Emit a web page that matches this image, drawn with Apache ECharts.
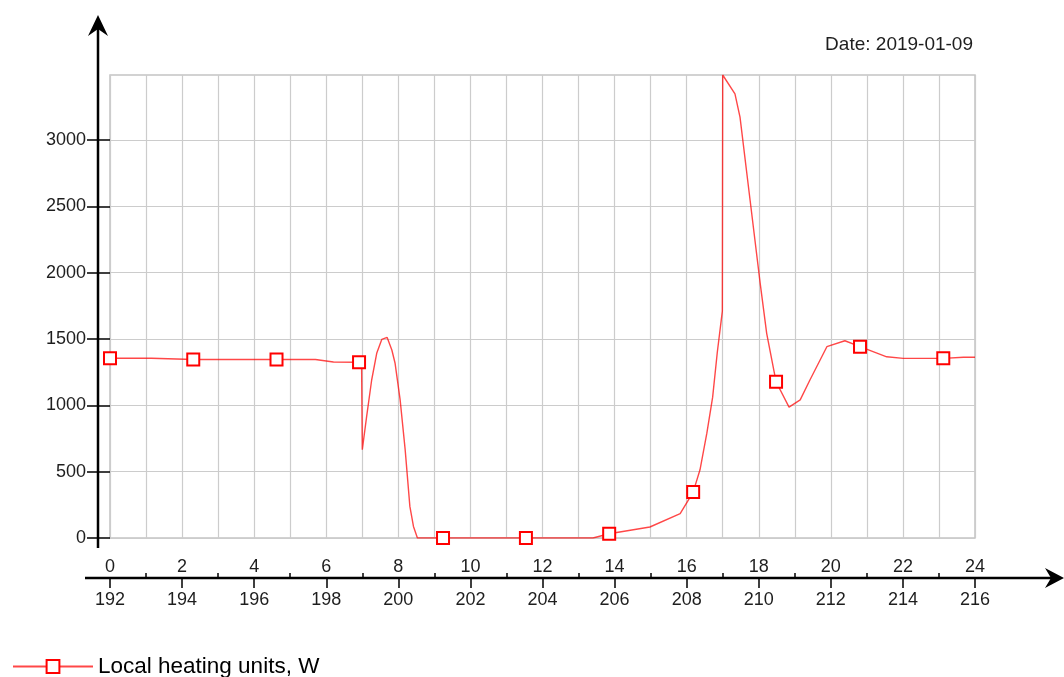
<!DOCTYPE html>
<html>
<head>
<meta charset="utf-8">
<title>Local heating units</title>
<script src="https://cdn.jsdelivr.net/npm/echarts@6/dist/echarts.min.js"></script>
<style>
  html, body { margin: 0; padding: 0; background: #ffffff; }
  #chart { width: 1064px; height: 677px; }
</style>
</head>
<body>
<div id="chart"></div>
<script>
// Hour of day and heating power (W) for 2019-01-09
const hours = [0, 1.15, 1.2, 2.31, 4.62, 5.7, 5.75, 6.2, 6.91, 6.98, 7.0, 7.12, 7.26, 7.40, 7.54, 7.69,
  7.82, 7.91, 8.05, 8.19, 8.32, 8.42, 8.53, 9.24, 11.54, 13.4, 13.85, 14.98, 15.82, 16.18, 16.37,
  16.56, 16.72, 16.85, 16.99, 17.0, 17.34, 17.48, 17.76, 18.04, 18.22, 18.48, 18.84, 19.15, 19.42,
  19.89, 20.39, 20.81, 21.55, 22.01, 23.12, 23.68, 24];
const watts = [1355, 1355, 1345, 1345, 1345, 1345, 1336, 1327, 1325, 1325, 665, 915, 1191, 1392, 1497, 1512,
  1417, 1317, 1041, 664, 238, 87, 0, 0, 0, 0, 32, 83, 183, 346, 514,
  790, 1060, 1400, 1710, 3490, 3348, 3172, 2546, 1919, 1543, 1178, 986, 1041, 1191,
  1442, 1487, 1442, 1366, 1354, 1354, 1362, 1362];
// Hours at which the series carries a square marker
const markerHours = [0, 2.31, 4.62, 6.91, 9.24, 11.54, 13.85, 16.18, 18.48, 20.81, 23.12];

// Tick values
const hourLabels = [0, 2, 4, 6, 8, 10, 12, 14, 16, 18, 20, 22, 24];
const oddHours = [1, 3, 5, 7, 9, 11, 13, 15, 17, 19, 21, 23];
const hourOffset = 192;
const powerTicks = [0, 500, 1000, 1500, 2000, 2500, 3000];
const powerMax = 3490;

const seriesName = 'Local heating units, W';
const dateText = 'Date: 2019-01-09';

const FONT = '"Liberation Sans", Arial, sans-serif';
const TXT = '#1e1e1e';
const GRID_LINE = { color: '#cccccc', width: 1.2 };

const points = hours.map((h, i) => ({
  value: [h, watts[i]],
  symbol: markerHours.includes(h) ? 'emptyRect' : 'none'
}));

const chart = echarts.init(document.getElementById('chart'), null, { renderer: 'canvas' });

const baseX = {
  type: 'value', min: 0, max: 24, gridIndex: 0, position: 'bottom',
  axisLine: { show: false }, axisTick: { show: false }, axisLabel: { show: false },
  splitLine: { show: false }
};

chart.setOption({
  animation: false,
  backgroundColor: '#ffffff',
  title: {
    text: dateText, right: 91, top: 35, padding: 0,
    textStyle: { fontFamily: FONT, fontSize: 19, fontWeight: 'normal', color: TXT }
  },
  legend: {
    left: 12, top: 655, padding: 0, itemWidth: 80, itemHeight: 16, itemGap: 8,
    textStyle: { fontFamily: FONT, fontSize: 22.5, color: '#000' },
    data: [seriesName]
  },
  grid: {
    left: 110, right: 89, top: 75, bottom: 139,
    show: true, borderColor: '#c4c4c4', borderWidth: 1.5, backgroundColor: 'transparent'
  },
  xAxis: [
    // hour of day, above the black axis
    Object.assign({}, baseX, {
      interval: 2, offset: 0,
      axisLabel: { show: true, margin: 20, fontFamily: FONT, fontSize: 18, color: TXT, customValues: hourLabels }
    }),
    // running hour, below the black axis
    Object.assign({}, baseX, {
      interval: 2, offset: 40,
      axisTick: { show: true, length: 10, lineStyle: { color: '#000', width: 1.5 }, customValues: hourLabels },
      axisLabel: {
        show: true, margin: 13, fontFamily: FONT, fontSize: 18, color: TXT, customValues: hourLabels,
        formatter: v => String(v + hourOffset)
      }
    }),
    // short upward ticks on odd hours
    Object.assign({}, baseX, {
      interval: 1, offset: 40,
      axisTick: { show: true, inside: true, length: 5, lineStyle: { color: '#000', width: 1.5 }, customValues: oddHours }
    }),
    // hourly vertical grid
    Object.assign({}, baseX, {
      interval: 1, offset: 0,
      splitLine: { show: true, lineStyle: GRID_LINE }
    })
  ],
  yAxis: {
    type: 'value', min: 0, max: powerMax, interval: 500,
    axisLine: { show: false },
    axisTick: { show: true, length: 23, lineStyle: { color: '#000', width: 1.5 }, customValues: powerTicks },
    axisLabel: {
      margin: 24, fontFamily: FONT, fontSize: 18, color: TXT, customValues: powerTicks,
      formatter: v => String(v)
    },
    splitLine: { show: true, lineStyle: GRID_LINE }
  },
  series: [{
    name: seriesName,
    type: 'line',
    xAxisIndex: 0,
    data: points,
    symbol: 'emptyRect',
    symbolSize: 12,
    showAllSymbol: true,
    lineStyle: { color: 'rgba(255,0,0,0.72)', width: 1.4 },
    itemStyle: { color: '#ff0000', borderColor: '#ff0000', borderWidth: 2.2 },
    emphasis: { disabled: true }
  }],
  // Black arrowed axes drawn around the plot
  graphic: [
    { type: 'line', shape: { x1: 98, y1: 548, x2: 98, y2: 26 }, style: { stroke: '#000', lineWidth: 2.5 } },
    { type: 'polygon', shape: { points: [[98, 15], [88, 36], [98, 29], [108, 36]] }, style: { fill: '#000' } },
    { type: 'line', shape: { x1: 85, y1: 578, x2: 1054, y2: 578 }, style: { stroke: '#000', lineWidth: 2.5 } },
    { type: 'polygon', shape: { points: [[1064, 578], [1045, 568], [1051, 578], [1045, 588]] }, style: { fill: '#000' } }
  ]
});
</script>
</body>
</html>
